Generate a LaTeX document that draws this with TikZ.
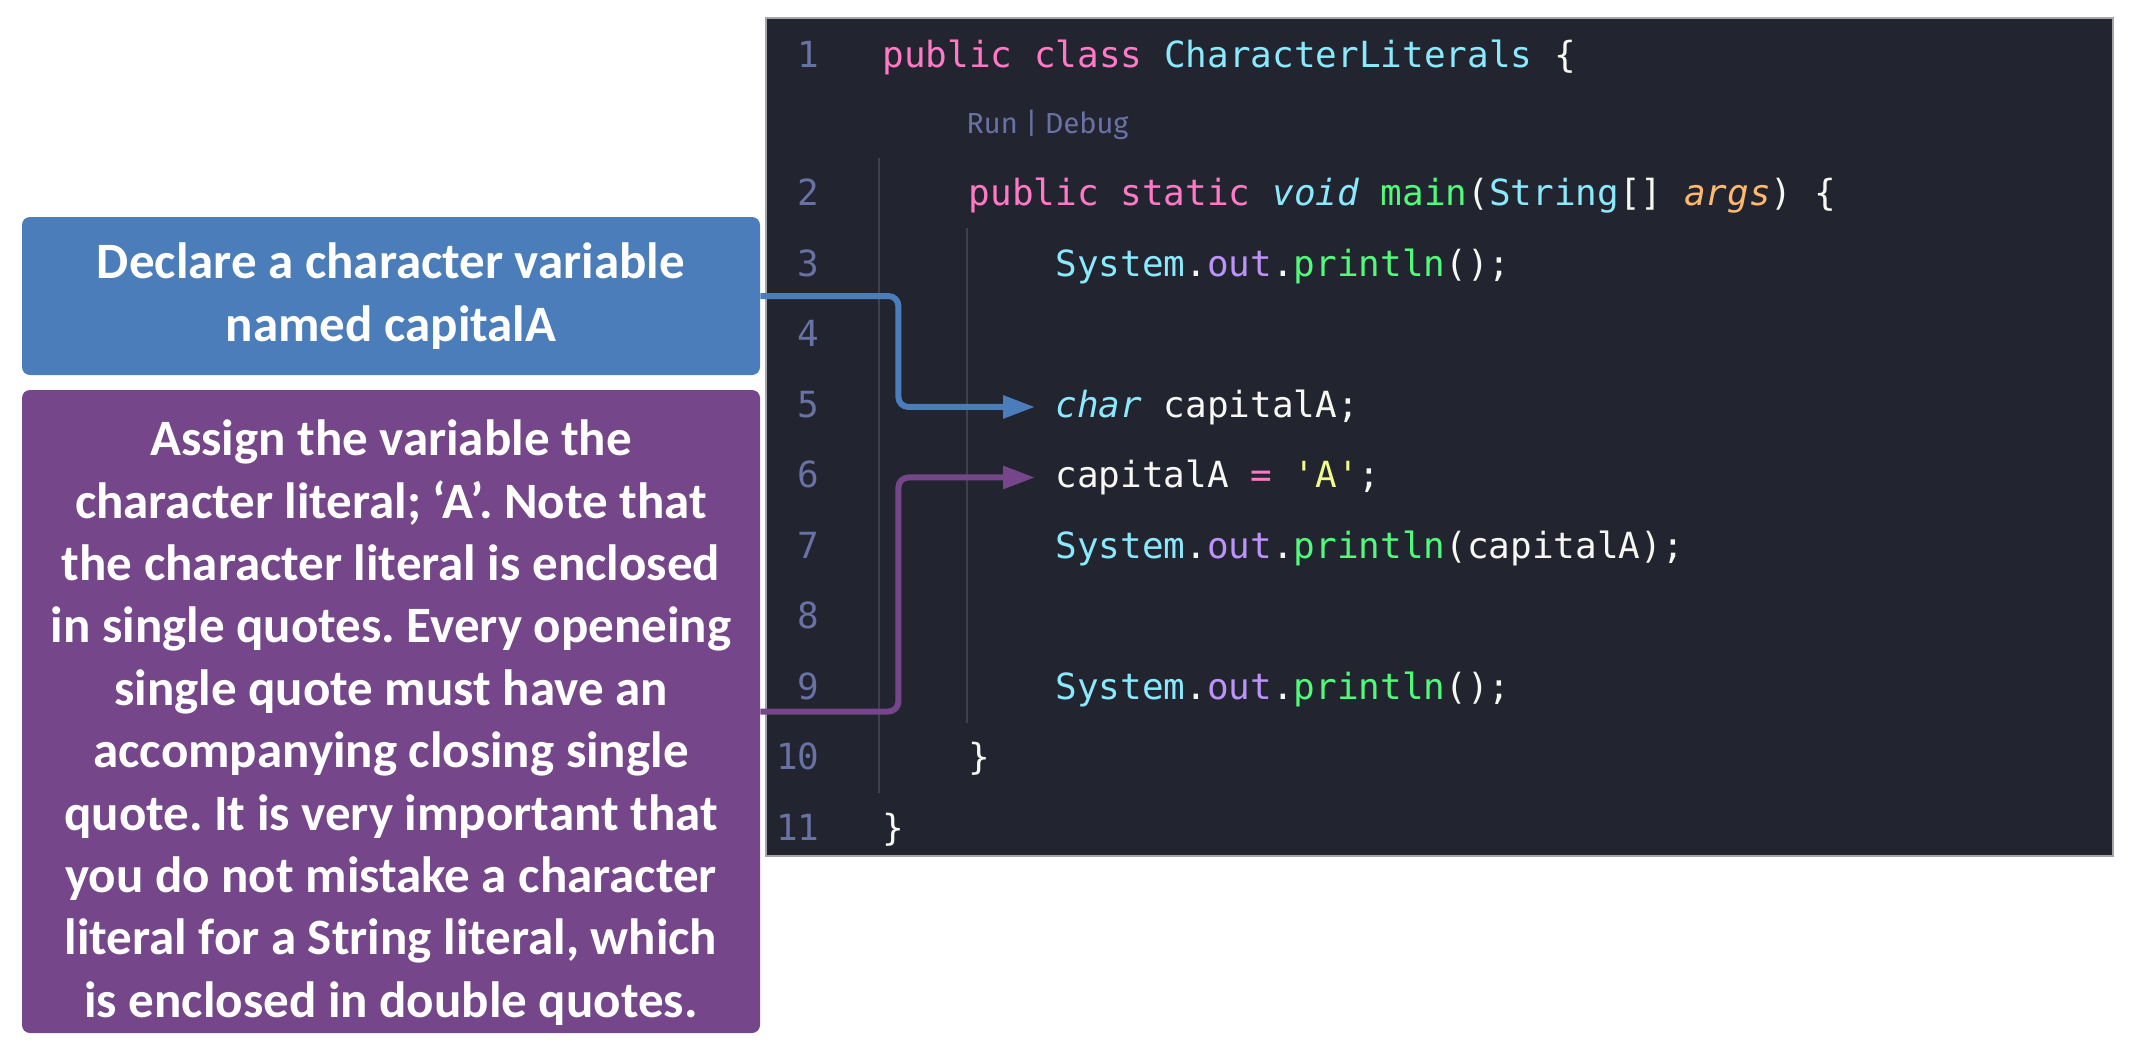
\documentclass[tikz,border=0pt]{standalone}
\usepackage{fontspec}
\setmainfont{Carlito}
\setmonofont{DejaVu Sans Mono}
\newfontfamily\lensfont{Fira Sans}
\usepackage{xcolor}
\usetikzlibrary{arrows.meta,positioning}

\definecolor{panelbg}{HTML}{22242F}
\definecolor{panelrule}{HTML}{A4A4AC}
\definecolor{guidegray}{HTML}{3E404E}
\definecolor{linenum}{HTML}{6872A4}
\definecolor{kwpink}{HTML}{FF79C6}
\definecolor{typecyan}{HTML}{8BE9FD}
\definecolor{fngreen}{HTML}{50FA7B}
\definecolor{fieldpurple}{HTML}{BD93F9}
\definecolor{argorange}{HTML}{FFB86C}
\definecolor{lityellow}{HTML}{F1FA8C}
\definecolor{plaintext}{HTML}{F8F8F2}
\definecolor{boxblue}{HTML}{4A7DB9}
\definecolor{boxpurple}{HTML}{76468A}

\newcommand{\kw}[1]{\textcolor{kwpink}{#1}}
\newcommand{\ty}[1]{\textcolor{typecyan}{#1}}
\newcommand{\fnc}[1]{\textcolor{fngreen}{#1}}
\newcommand{\fld}[1]{\textcolor{fieldpurple}{#1}}
\newcommand{\prm}[1]{\textcolor{argorange}{\itshape #1}}
\newcommand{\chlit}[1]{\textcolor{lityellow}{#1}}

\frenchspacing

\begin{document}
\begin{tikzpicture}[
    x=0.5pt, y=-0.5pt,
    note/.style={rectangle, rounded corners=4pt, text=white, align=center,
        minimum width=369pt, font=\bfseries\fontsize{25.5}{31.2}\selectfont},
    declarebox/.style={note, fill=boxblue, minimum height=79pt},
    assignbox/.style={note, fill=boxpurple, minimum height=321.5pt},
    panel/.style={fill=panelbg, draw=panelrule, line width=1pt},
    guide/.style={draw=guidegray, line width=1pt},
    code/.style={anchor=base west, inner sep=0pt, text=plaintext,
        font=\ttfamily\fontsize{18}{18}\selectfont},
    num/.style={anchor=base east, inner sep=0pt, text=linenum,
        font=\ttfamily\fontsize{18}{18}\selectfont},
    lens/.style={anchor=base west, inner sep=0pt, text=linenum,
        font=\lensfont\fontsize{14.5}{14.5}\selectfont},
    pointer/.style={line width=3pt, rounded corners=5pt, shorten >=10pt,
        -{Triangle[length=16pt,width=11pt]}}
]
\useasboundingbox (0,0) rectangle (2131,1055);

% Editor panel
\draw[panel] (766,18) rectangle (2113,856);
\draw[guide] (879,158) -- (879,793);
\draw[guide] (967,228) -- (967,723);

% Line numbers
\node[num] (n1) at (820,67) {1};
\node[num] (n2) at (820,205.5) {2};
\node[num] (n3) at (820,276) {3};
\node[num] (n4) at (820,346.5) {4};
\node[num] (n5) at (820,417) {5};
\node[num] (n6) at (820,487.5) {6};
\node[num] (n7) at (820,558) {7};
\node[num] (n8) at (820,628.5) {8};
\node[num] (n9) at (820,699) {9};
\node[num] (n10) at (820,769.5) {10};
\node[num] (n11) at (820,840) {11};

% Code
\node[code] (line1) at (882,67) {\kw{public} \kw{class} \ty{CharacterLiterals} \{};
\node[lens] (runlens) at (966,133) {Run | Debug};
\node[code] (line2) at (968.5,205.5) {\kw{public} \kw{static} \ty{\itshape void} \fnc{main}(\ty{String}[] \prm{args}) \{};
\node[code] (line3) at (1055,276) {\ty{System}.\fld{out}.\fnc{println}();};
\node[code] (line5) at (1055,417) {\ty{\itshape char} capitalA;};
\node[code] (line6) at (1055,487.5) {capitalA \kw{=} \chlit{'A'};};
\node[code] (line7) at (1055,558) {\ty{System}.\fld{out}.\fnc{println}(capitalA);};
\node[code] (line9) at (1055,699) {\ty{System}.\fld{out}.\fnc{println}();};
\node[code] (line10) at (968.5,769.5) {\}};
\node[code] (line11) at (882,840) {\}};

% Notes
\node[declarebox] (declare) at (391,296) {Declare a character variable\\named capitalA};
\node[assignbox] (assign) at (391,711.5) {\rule{0pt}{29pt}Assign the variable the\\
    character literal; ‘A’. Note that\\
    the character literal is enclosed\\
    in single quotes. Every openeing\\
    single quote must have an\\
    accompanying closing single\\
    quote. It is very important that\\
    you do not mistake a character\\
    literal for a String literal, which\\
    is enclosed in double quotes.};

% Pointers
\draw[pointer, boxblue] (declare.east) -- ++(138,0) |- (line5.west);
\draw[pointer, boxpurple] (assign.east) -- ++(138,0) |- (line6.west);

\end{tikzpicture}
\end{document}
